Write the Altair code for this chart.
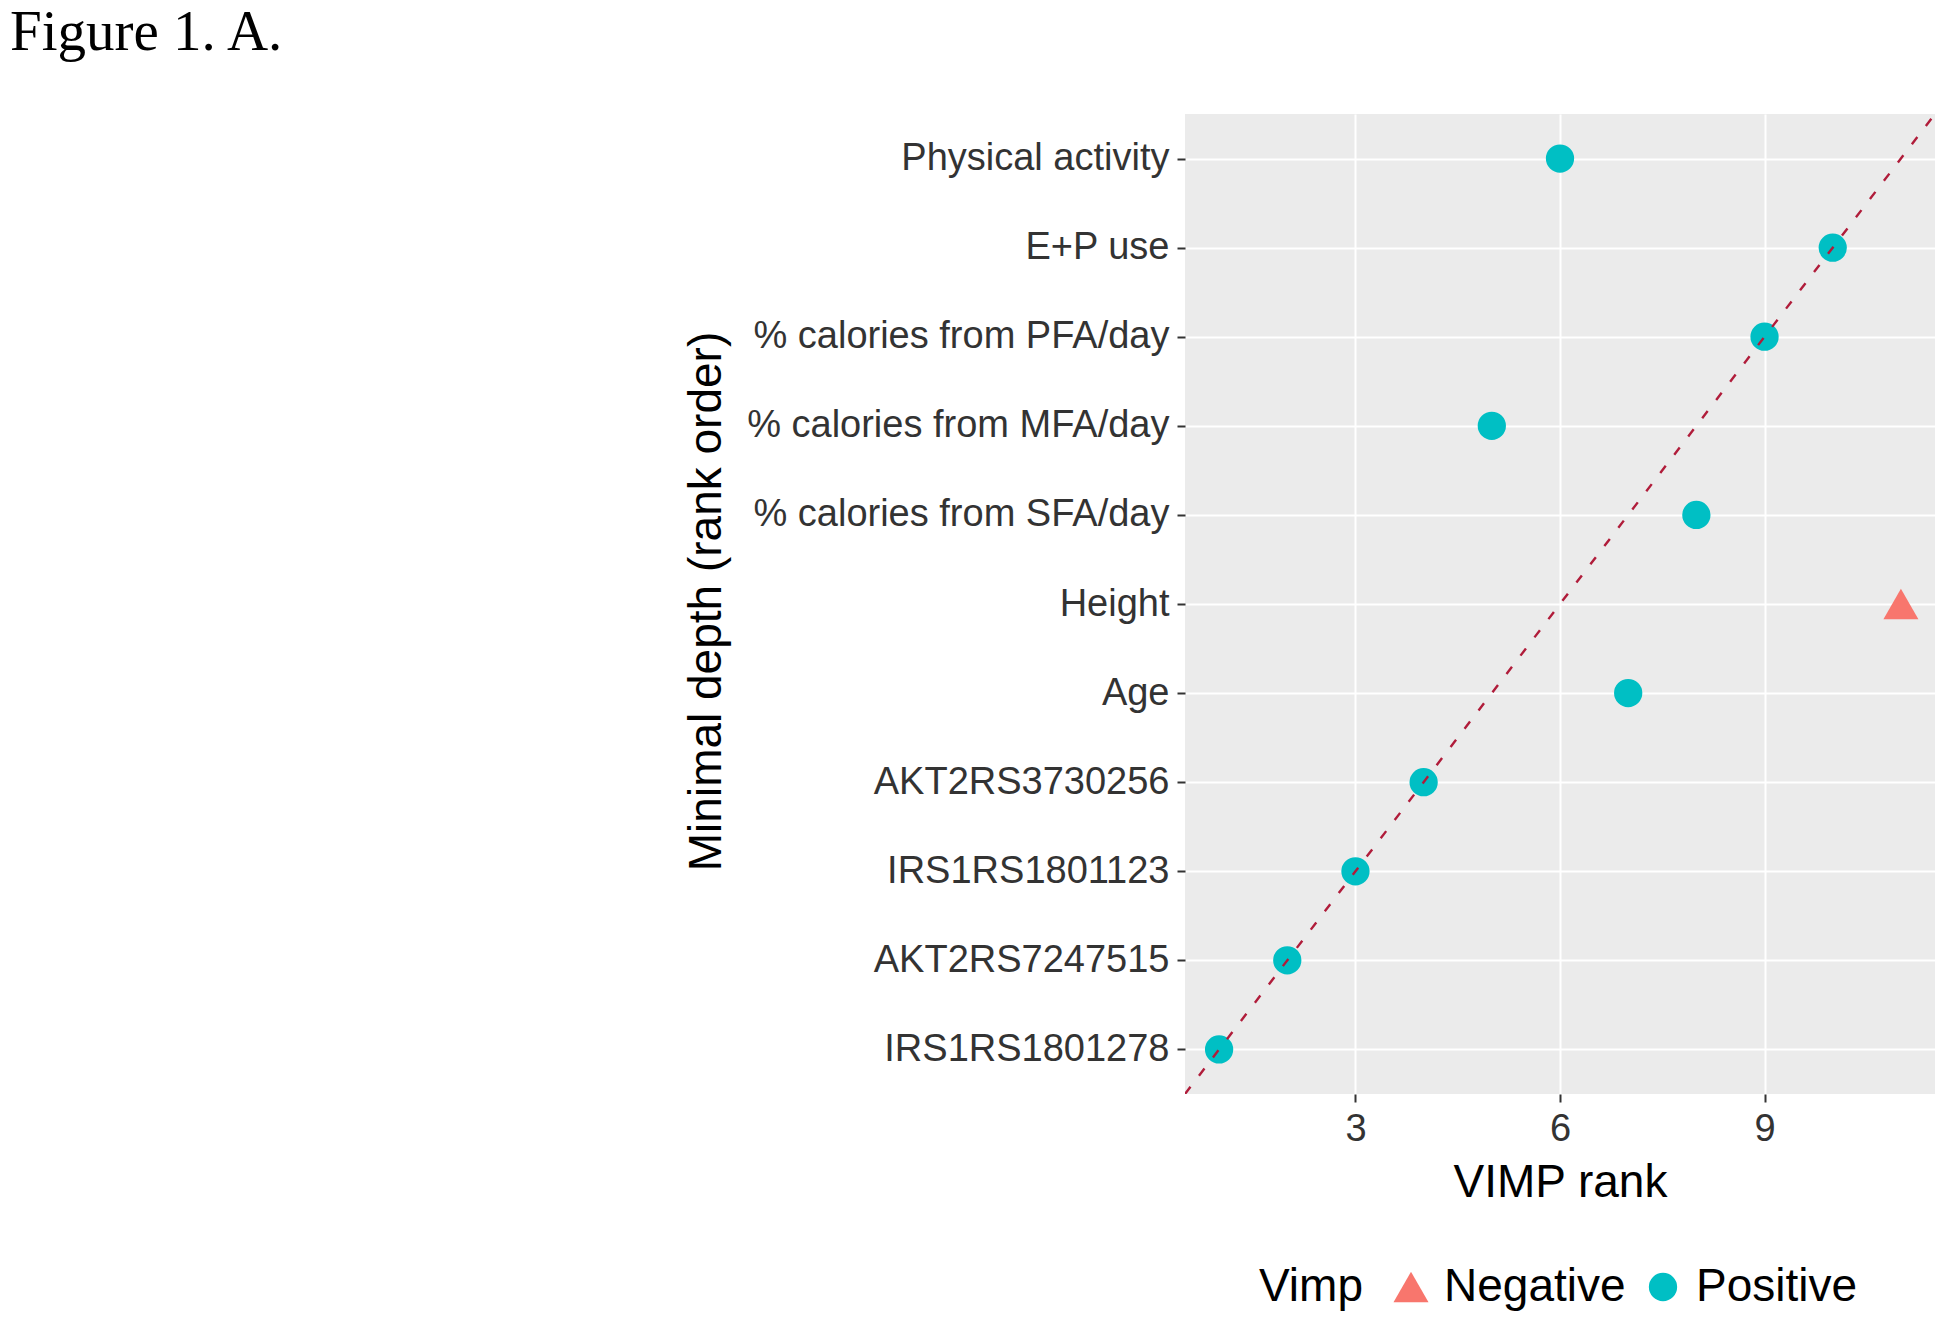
import altair as alt
import pandas as pd

# ---- data ----
variables = [
    "Physical activity",
    "E+P use",
    "% calories from PFA/day",
    "% calories from MFA/day",
    "% calories from SFA/day",
    "Height",
    "Age",
    "AKT2RS3730256",
    "IRS1RS1801123",
    "AKT2RS7247515",
    "IRS1RS1801278",
]
depth_rank = [11, 10, 9, 8, 7, 6, 5, 4, 3, 2, 1]
vimp_rank = [6, 10, 9, 5, 8, 11, 7, 4, 3, 2, 1]
vimp_sign = ["Positive", "Positive", "Positive", "Positive", "Positive", "Negative",
             "Positive", "Positive", "Positive", "Positive", "Positive"]

x_ticks = [3, 6, 9]
y_ticks = list(range(1, 12))
axis_domain = [0.5, 11.5]
sign_levels = ["Negative", "Positive"]
sign_colors = ["#F8766D", "#00BFC4"]
sign_shapes = ["triangle-up", "circle"]
sign_sizes = [1225, 800]

df = pd.DataFrame({"variable": variables, "depth": depth_rank,
                   "vimp": vimp_rank, "Vimp": vimp_sign})
line_df = pd.DataFrame({"a": axis_domain, "b": axis_domain})

# label lookup rank -> variable name
lookup = {r: v for r, v in zip(depth_rank, variables)}
label_expr = "{" + ",".join(f"'{r}':'{lookup[r]}'" for r in sorted(lookup)) + "}[''+datum.value]"

xscale = alt.Scale(domain=axis_domain, nice=False, zero=False)
yscale = alt.Scale(domain=axis_domain, nice=False, zero=False)

legend = alt.Legend(
    orient="none", legendX=74, legendY=1150, direction="horizontal",
    titleOrient="left", title="Vimp", labelLimit=0,
)

points = alt.Chart(df).mark_point(filled=True, opacity=1, strokeWidth=0).encode(
    x=alt.X("vimp:Q", scale=xscale,
            axis=alt.Axis(values=x_ticks, format="d", title="VIMP rank", grid=True,
                          titleY=66, titleBaseline="top")),
    y=alt.Y("depth:Q", scale=yscale,
            axis=alt.Axis(values=y_ticks, labelExpr=label_expr, labelLimit=0,
                          title="Minimal depth (rank order)",
                          titleX=-479, titleY=487, titleAngle=270,
                          titleAlign="center", titleBaseline="middle")),
    color=alt.Color("Vimp:N", scale=alt.Scale(domain=sign_levels, range=sign_colors), legend=legend),
    shape=alt.Shape("Vimp:N", scale=alt.Scale(domain=sign_levels, range=sign_shapes), legend=legend),
    size=alt.Size("Vimp:N", scale=alt.Scale(domain=sign_levels, range=sign_sizes), legend=legend),
)

line = alt.Chart(line_df).mark_line(
    color="#B01C3A", strokeDash=[9, 14], strokeWidth=2.4, clip=True
).encode(x=alt.X("a:Q"), y=alt.Y("b:Q"))

chart = alt.layer(points, line).properties(
    width=750,
    height=980,
    autosize=alt.AutoSizeParams(type="none"),
    padding={"left": 1177, "top": 106, "right": 7, "bottom": 221},
    title=alt.TitleParams(
        "Figure 1. A.", anchor="start", frame="group", dx=-1175, dy=-4,
        font="Liberation Serif", fontSize=57, fontWeight="normal", color="black",
        offset=48,
    ),
).configure_view(
    fill="#EBEBEB", stroke=None
).configure_axis(
    labelFont="Liberation Sans", labelFontSize=38, labelColor="#333333",
    tickColor="#333333", tickSize=8, tickWidth=2, labelPadding=8,
    domain=False, gridColor="white", gridWidth=2,
    titleFont="Liberation Sans", titleFontSize=46, titleFontWeight="normal",
    titleColor="black",
).configure_legend(
    titleFont="Liberation Sans", titleFontSize=46, titleFontWeight="normal",
    titleColor="black", labelFont="Liberation Sans", labelFontSize=46,
    labelColor="black", titlePadding=25, labelOffset=10, columnPadding=14,
    symbolStrokeWidth=0, symbolOpacity=1,
)

chart.save("out.html", embed_options={"renderer": "svg", "actions": False})
